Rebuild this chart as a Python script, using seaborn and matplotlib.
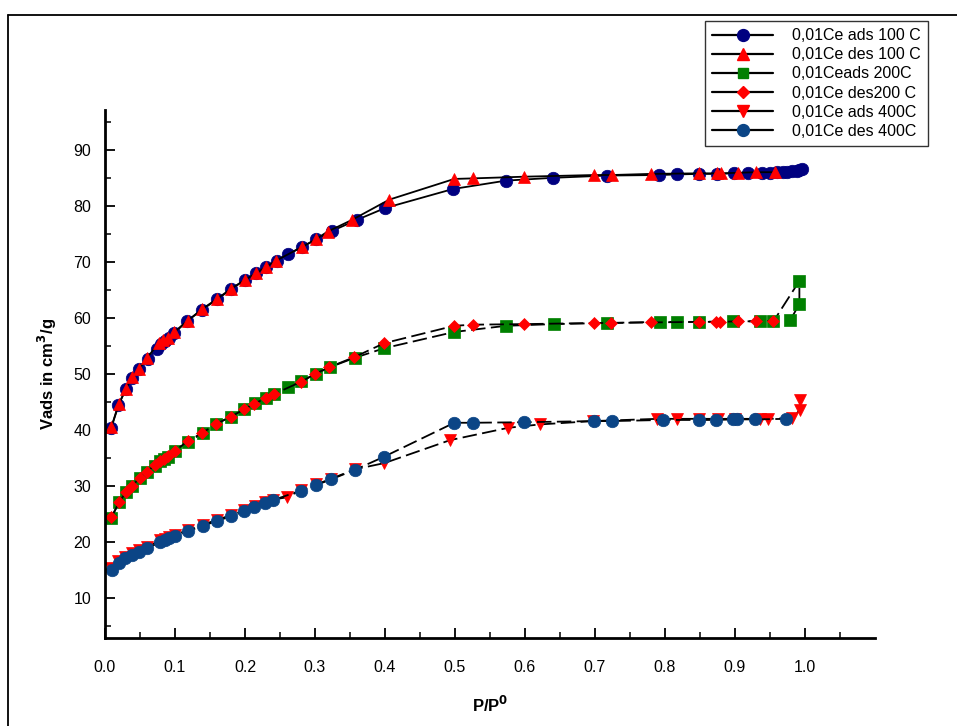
import numpy as np
import pandas as pd
import matplotlib
matplotlib.use("Agg")
import matplotlib.pyplot as plt
import seaborn as sns
from matplotlib.lines import Line2D

# --- isotherm data (P/P0, Vads cm3/g) ---
ads100_x = [0.009, 0.019, 0.030, 0.039, 0.049, 0.061, 0.074, 0.080, 0.086, 0.091,
            0.099, 0.117, 0.139, 0.160, 0.180, 0.200, 0.216, 0.230, 0.246, 0.262,
            0.282, 0.302, 0.324, 0.360, 0.400, 0.497, 0.573, 0.640, 0.717, 0.792,
            0.817, 0.849, 0.875, 0.898, 0.918, 0.938, 0.950, 0.960, 0.968, 0.975,
            0.982, 0.988, 0.992, 0.996]
ads100_y = [40.4, 44.5, 47.3, 49.3, 50.9, 52.7, 54.5, 55.3, 55.9, 56.4,
            57.3, 59.4, 61.5, 63.3, 65.1, 66.8, 68.0, 69.0, 70.2, 71.4,
            72.7, 74.0, 75.5, 77.5, 79.6, 83.0, 84.5, 85.0, 85.4, 85.5,
            85.6, 85.7, 85.7, 85.8, 85.8, 85.9, 85.9, 86.0, 86.1, 86.1,
            86.2, 86.3, 86.4, 86.5]

des100_x = [0.009, 0.020, 0.030, 0.039, 0.049, 0.060, 0.077, 0.083, 0.090, 0.099,
            0.118, 0.139, 0.160, 0.180, 0.200, 0.216, 0.230, 0.244, 0.282, 0.302,
            0.318, 0.353, 0.406, 0.499, 0.526, 0.599, 0.699, 0.724, 0.780, 0.849,
            0.874, 0.880, 0.904, 0.930, 0.957]
des100_y = [40.5, 44.6, 47.4, 49.5, 50.9, 52.9, 55.5, 56.1, 56.4, 57.5,
            59.5, 61.6, 63.4, 65.2, 66.8, 68.0, 69.1, 70.2, 72.7, 74.1,
            75.4, 77.5, 81.1, 84.8, 84.9, 85.2, 85.5, 85.5, 85.7, 85.8,
            85.8, 85.8, 85.9, 86.0, 86.0]

ads200_x = [0.009, 0.020, 0.030, 0.039, 0.050, 0.060, 0.071, 0.079, 0.084, 0.090,
            0.100, 0.119, 0.140, 0.159, 0.180, 0.199, 0.214, 0.230, 0.241, 0.261,
            0.280, 0.301, 0.321, 0.357, 0.399, 0.499, 0.573, 0.641, 0.717, 0.793,
            0.817, 0.849, 0.897, 0.936, 0.955, 0.992, 0.992, 0.979]
ads200_y = [24.3, 27.1, 28.9, 30.0, 31.4, 32.5, 33.6, 34.5, 34.8, 35.2,
            36.3, 37.9, 39.5, 41.1, 42.4, 43.8, 44.8, 45.7, 46.4, 47.7,
            48.7, 50.0, 51.2, 52.9, 54.6, 57.5, 58.6, 58.9, 59.1, 59.3,
            59.3, 59.3, 59.4, 59.4, 59.4, 66.6, 62.5, 59.6]

des200_x = [0.009, 0.020, 0.030, 0.039, 0.050, 0.060, 0.071, 0.079, 0.084, 0.090,
            0.100, 0.118, 0.139, 0.159, 0.180, 0.199, 0.213, 0.230, 0.241, 0.280,
            0.300, 0.320, 0.356, 0.399, 0.499, 0.526, 0.599, 0.699, 0.723, 0.780,
            0.849, 0.873, 0.879, 0.904, 0.930, 0.955]
des200_y = [24.4, 27.1, 28.9, 30.1, 31.5, 32.6, 33.7, 34.5, 34.9, 35.3,
            36.3, 38.0, 39.5, 41.1, 42.4, 43.7, 44.7, 45.7, 46.4, 48.6,
            50.0, 51.2, 53.0, 55.5, 58.6, 58.8, 58.9, 59.1, 59.1, 59.2,
            59.3, 59.3, 59.3, 59.4, 59.4, 59.5]

ads400_x = [0.008, 0.019, 0.029, 0.039, 0.049, 0.060, 0.079, 0.086, 0.092, 0.100,
            0.119, 0.140, 0.160, 0.180, 0.199, 0.214, 0.229, 0.240, 0.260, 0.280,
            0.302, 0.323, 0.357, 0.399, 0.493, 0.576, 0.621, 0.697, 0.789, 0.817,
            0.849, 0.876, 0.900, 0.936, 0.947, 0.981, 0.993, 0.993]
ads400_y = [15.4, 16.6, 17.4, 18.0, 18.6, 19.2, 20.3, 20.6, 20.9, 21.3,
            22.2, 23.1, 24.0, 24.8, 25.7, 26.4, 27.1, 27.6, 28.0, 29.3,
            30.3, 31.3, 33.0, 34.1, 38.2, 40.4, 41.0, 41.6, 42.0, 42.0,
            42.0, 42.0, 42.0, 42.0, 42.0, 42.1, 43.6, 45.4]

des400_x = [0.010, 0.020, 0.029, 0.039, 0.049, 0.060, 0.079, 0.086, 0.092, 0.100,
            0.119, 0.140, 0.160, 0.180, 0.199, 0.213, 0.229, 0.240, 0.280, 0.302,
            0.323, 0.357, 0.398, 0.499, 0.526, 0.599, 0.699, 0.724, 0.797, 0.849,
            0.873, 0.897, 0.903, 0.929, 0.973]
des400_y = [15.0, 16.2, 17.1, 17.7, 18.2, 18.9, 20.0, 20.4, 20.7, 21.1,
            22.0, 22.9, 23.8, 24.6, 25.5, 26.3, 27.0, 27.5, 29.2, 30.2,
            31.2, 32.9, 35.2, 41.3, 41.3, 41.4, 41.6, 41.6, 41.8, 41.8,
            41.8, 41.9, 41.9, 41.9, 42.0]

labels = ["0,01Ce ads 100 C", "0,01Ce des 100 C", "0,01Ceads 200C",
          "0,01Ce des200 C", "0,01Ce ads 400C", "0,01Ce des 400C"]


def plot_isotherms():
    sns.set_style("ticks", {"axes.edgecolor": "black", "xtick.color": "black",
                            "ytick.color": "black", "text.color": "black",
                            "axes.labelcolor": "black"})
    plt.rcParams["font.family"] = ["Liberation Sans", "DejaVu Sans"]

    fig = plt.figure(figsize=(9.57, 7.26), dpi=100)
    ax = fig.add_axes([0.1097, 0.1212, 0.8046, 0.7273])

    series = [
        (ads100_x, ads100_y, "o", "#000080", 9, "-"),
        (des100_x, des100_y, "^", "#ff0000", 9, "-"),
        (ads200_x, ads200_y, "s", "#008000", 8, (0, (8, 3))),
        (des200_x, des200_y, "D", "#ff0000", 6.5, (0, (8, 3))),
        (ads400_x, ads400_y, "v", "#ff0000", 9, (0, (8, 3))),
        (des400_x, des400_y, "o", "#0b4586", 9, (0, (8, 3))),
    ]

    handles = []
    for (xs, ys, mk, col, ms, ls), lab in zip(series, labels):
        df = pd.DataFrame({"p": xs, "v": ys})
        sns.lineplot(data=df, x="p", y="v", sort=False, estimator=None, ax=ax,
                     color="black", linewidth=1.3, linestyle=ls,
                     marker=mk, markersize=ms, markerfacecolor=col,
                     markeredgecolor=col, markeredgewidth=0.5)
        handles.append(Line2D([0], [0], color="black", lw=1.6, marker=mk,
                              markersize=ms * 0.95, markerfacecolor=col,
                              markeredgecolor=col, label=lab))

    ax.set_xlim(0, 1.1)
    ax.set_ylim(2.9, 97.1)
    ax.set_xticks(np.arange(0, 1.01, 0.1))
    ax.set_xticks(np.arange(0.05, 1.1, 0.1), minor=True)
    ax.set_yticks(np.arange(10, 91, 10))
    ax.set_yticks(np.arange(5, 96, 10), minor=True)
    ax.xaxis.set_major_formatter(plt.FormatStrFormatter("%.1f"))

    for side in ["top", "right"]:
        ax.spines[side].set_visible(False)
    for side in ["left", "bottom"]:
        ax.spines[side].set_linewidth(2)
        ax.spines[side].set_color("black")
    ax.tick_params(which="major", direction="in", length=7, width=1.3,
                   labelsize=11.5, colors="black")
    ax.tick_params(which="minor", direction="in", length=4, width=1.1,
                   colors="black")
    ax.tick_params(axis="x", pad=16)
    ax.tick_params(axis="y", pad=10)

    ax.set_xlabel("P/P$^\\mathbf{0}$", fontsize=12, fontweight="bold",
                  labelpad=14, color="black")
    ax.set_ylabel("Vads in cm$^\\mathbf{3}$/g", fontsize=12, fontweight="bold",
                  labelpad=10, color="black")

    leg = fig.legend(handles=handles, loc="upper right",
                     bbox_to_anchor=(928 / 957, 1 - 21 / 726), borderaxespad=0,
                     fontsize=11.5, handlelength=3.8, frameon=True,
                     fancybox=False, borderpad=0.45, labelspacing=0.26,
                     handletextpad=1.2)
    leg.get_frame().set_edgecolor("black")
    leg.get_frame().set_linewidth(1.0)
    for t in leg.get_texts():
        t.set_color("black")

    # outer frame of the picture
    x0, y0 = 8 / 957, 1 - 15 / 726
    fig.add_artist(Line2D([x0, 1.0], [y0, y0], color="black", lw=1.3,
                          transform=fig.transFigure))
    fig.add_artist(Line2D([x0, x0], [0.0, y0], color="black", lw=1.3,
                          transform=fig.transFigure))

    fig.savefig("out.png", dpi=100)


if __name__ == "__main__":
    plot_isotherms()
